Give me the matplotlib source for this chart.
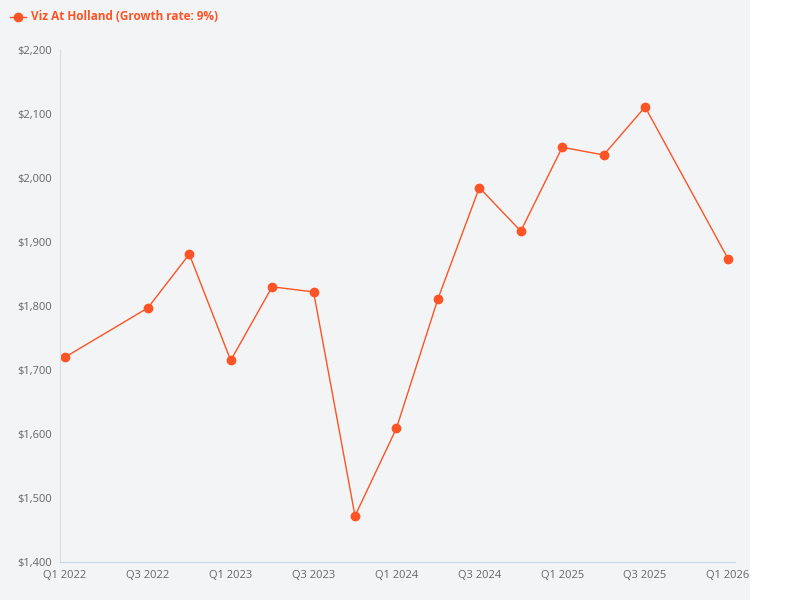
import matplotlib.pyplot as plt
from matplotlib.patches import Rectangle
from matplotlib.lines import Line2D
from matplotlib.ticker import FuncFormatter

plt.rcParams["font.family"] = ["Open Sans", "DejaVu Sans"]

# quarter index from Q1 2022
quarters = [0, 2, 3, 4, 5, 6, 7, 8, 9, 10, 11, 12, 13, 14, 16]
prices = [1720, 1797, 1881, 1715, 1830, 1822, 1472, 1609, 1811,
          1985, 1917, 2048, 2036, 2111, 1874]
tick_pos = [0, 2, 4, 6, 8, 10, 12, 14, 16]
tick_labels = ["Q1 2022", "Q3 2022", "Q1 2023", "Q3 2023", "Q1 2024",
               "Q3 2024", "Q1 2025", "Q3 2025", "Q1 2026"]
COLOR = "#fc5424"

fig = plt.figure(figsize=(8, 6), dpi=100, facecolor="white")
fig.patches.append(Rectangle((0, 0), 750 / 800, 1, transform=fig.transFigure,
                             facecolor="#f3f4f6", zorder=-1))
ax = fig.add_axes([60 / 800, 38 / 600, 675 / 800, 512 / 600])
ax.set_zorder(2)
ax.set_facecolor("none")

ax.plot(quarters, prices, color=COLOR, linewidth=1, marker="o", markersize=6)

ax.set_xlim(-0.12, 16.17)
ax.set_ylim(1400, 2200)
ax.set_yticks(range(1400, 2201, 100))
ax.yaxis.set_major_formatter(FuncFormatter(lambda v, p: f"${v:,.0f}"))
ax.set_xticks(tick_pos)
ax.set_xticklabels(tick_labels)
ax.tick_params(colors="#666666", labelsize=8, length=0, pad=6)
for s in ["top", "right"]:
    ax.spines[s].set_visible(False)
ax.spines["left"].set_color("#dddddd")
ax.spines["bottom"].set_color("#c8d6e5")

fig.lines.append(Line2D([10 / 800, 18 / 800, 26 / 800], [583 / 600] * 3,
                        transform=fig.transFigure, color=COLOR, linewidth=1,
                        marker="o", markersize=6, markevery=[1], zorder=3))
fig.text(31 / 800, 583 / 600, "Viz At Holland (Growth rate: 9%)", color=COLOR,
         fontsize=8.5, fontweight="bold", va="center", zorder=3)

fig.savefig("out.png", dpi=100)
